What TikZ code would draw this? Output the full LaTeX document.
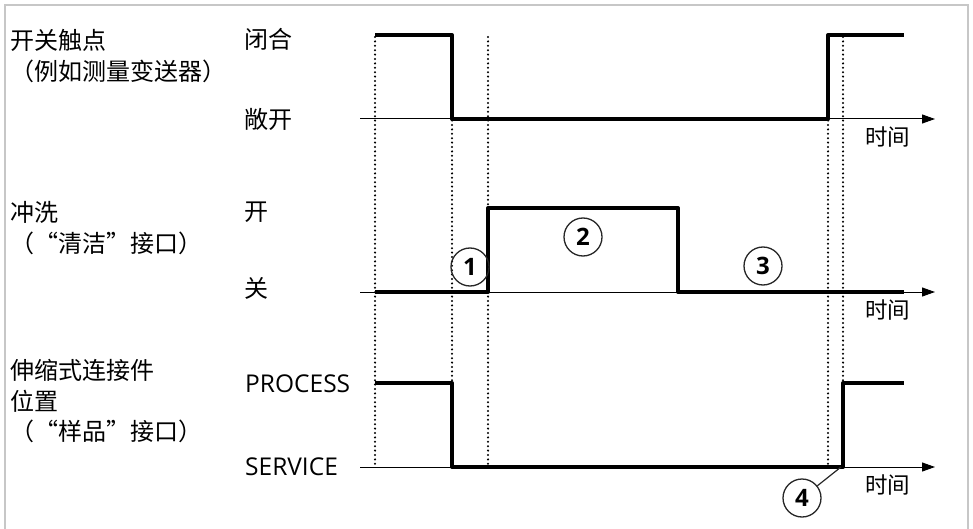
\documentclass[tikz,border=0pt]{standalone}
\usepackage{fontspec}
\setmainfont{Open Sans}
\newfontfamily\cjk{Noto Sans CJK SC}
\usetikzlibrary{arrows.meta}
\begin{document}
\begin{tikzpicture}[x=1pt,y=-1pt,
  sig/.style={line width=4pt, line join=round},
  axisline/.style={line width=1pt, -{Triangle[length=13pt,width=9pt]}},
  dotline/.style={line width=2.3pt, line cap=round, dash pattern=on 0pt off 4.4pt},
  lbl/.style={anchor=west, inner sep=0pt, font=\fontsize{24}{28}\selectfont\cjk},
  lat/.style={anchor=west, inner sep=0pt, font=\fontsize{24.5}{28}\selectfont},
  num/.style={circle, draw=black!85, line width=1.3pt, minimum size=38pt, inner sep=0pt, font=\fontsize{24}{26}\selectfont\bfseries},
  tm/.style={anchor=west, inner sep=0pt, font=\fontsize{22.5}{26}\selectfont\cjk}]
\useasboundingbox (0,0) rectangle (973,529);
\draw[black!22, line width=1.8pt] (5,540) -- (5,5) -- (968,5) -- (968,540);

% left labels
\node[lbl] (l1a) at (10,40) {开关触点};
\node[lbl] (l1b) at (10,71.5) {（例如测量变送器）};
\node[lbl] (l2a) at (10,212) {冲洗};
\node[lbl] (l2b) at (10,243) {（“清洁”接口）};
\node[lbl] (l3a) at (10,370) {伸缩式连接件};
\node[lbl] (l3b) at (10,401) {位置};
\node[lbl] (l3c) at (10,431) {（“样品”接口）};

% state labels
\node[lbl] (s1h) at (244,39) {闭合};
\node[lbl] (s1l) at (244,119) {敞开};
\node[lbl] (s2h) at (244,212) {开};
\node[lbl] (s2l) at (244,288) {关};
\node[lat] (s3h) at (245,384) {PROCESS};
\node[lat] (s3l) at (245,467) {SERVICE};

% dotted time markers
\foreach \x in {375,452,488,828,843}
  \draw[dotline] (\x,37) -- (\x,467);

% axes
\coordinate (a1s) at (360,119); \coordinate (a1e) at (935,119);
\coordinate (a2s) at (360,292); \coordinate (a2e) at (935,292);
\coordinate (a3s) at (360,467); \coordinate (a3e) at (935,467);
\draw[axisline] (a1s) -- (a1e);
\draw[axisline] (a2s) -- (a2e);
\draw[axisline] (a3s) -- (a3e);

\node[tm] (t1) at (865,137) {时间};
\node[tm] (t2) at (865,310) {时间};
\node[tm] (t3) at (865,485) {时间};

% signals
\draw[sig] (375,35) -- (452,35) -- (452,119) -- (828,119) -- (828,35) -- (904,35);
\draw[sig] (375,292) -- (488,292) -- (488,208) -- (678,208) -- (678,292) -- (904,292);
\draw[sig] (375,383) -- (452,383) -- (452,467) -- (843,467) -- (843,383) -- (904,383);

% numbered markers
\node[num] (c1) at (470,267) {1};
\node[num] (c2) at (583,237) {2};
\node[num] (c3) at (763,266) {3};
\node[num] (c4) at (802,498) {4};
\coordinate (p4) at (841,467);
\draw[line width=1.2pt, black!85] (c4) -- (p4);
\end{tikzpicture}
\end{document}
